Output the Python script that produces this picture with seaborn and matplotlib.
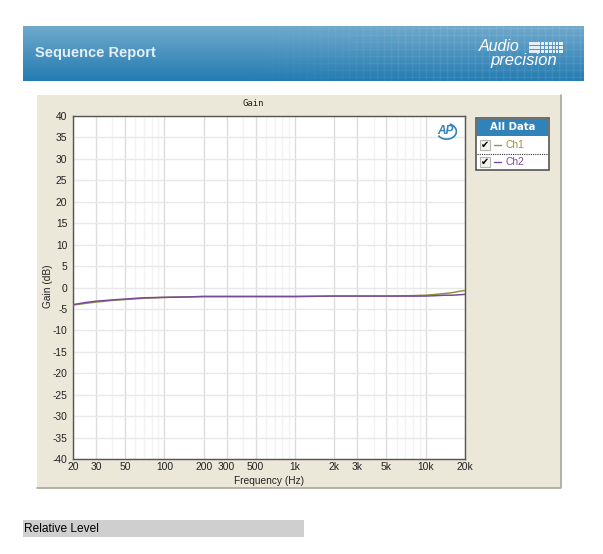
import numpy as np
import pandas as pd
import matplotlib
matplotlib.use("Agg")
import matplotlib.pyplot as plt
from matplotlib.patches import Rectangle, Arc
from matplotlib.ticker import FixedLocator, FixedFormatter, NullFormatter
import seaborn as sns

freq = [20, 25, 30, 40, 50, 70, 100, 150, 200, 300, 500, 1000, 2000, 3000, 5000, 8000, 10000, 12000, 14000, 16000, 18000, 20000]
ch1 = [-4.1, -3.7, -3.4, -3.0, -2.8, -2.5, -2.3, -2.2, -2.1, -2.1, -2.1, -2.1, -2.0, -2.0, -2.0, -1.9, -1.8, -1.6, -1.4, -1.2, -0.9, -0.7]
ch2 = [-4.0, -3.5, -3.2, -2.9, -2.7, -2.4, -2.3, -2.2, -2.1, -2.1, -2.1, -2.1, -2.0, -2.0, -2.0, -2.0, -2.0, -1.9, -1.8, -1.8, -1.7, -1.6]
xtick_vals = [20, 30, 50, 100, 200, 300, 500, 1000, 2000, 3000, 5000, 10000, 20000]
xtick_labels = ["20", "30", "50", "100", "200", "300", "500", "1k", "2k", "3k", "5k", "10k", "20k"]
xminor_vals = [40, 60, 70, 80, 90, 400, 600, 700, 800, 900, 4000, 6000, 7000, 8000, 9000]
ytick_vals = list(range(-40, 41, 5))
series_names = ["Ch1", "Ch2"]
series_colors = ["#94943a", "#7a4a9a"]

W, H = 603, 554
sns.set_theme(style="white", rc={"axes.unicode_minus": False})
plt.rcParams['font.family'] = ['Liberation Sans', 'DejaVu Sans']
fig = plt.figure(figsize=(W / 100, H / 100), dpi=100, facecolor="white")


def px_axes(x0, y0, x1, y1, **kw):
    return fig.add_axes([x0 / W, 1 - y1 / H, (x1 - x0) / W, (y1 - y0) / H], **kw)


bg = px_axes(0, 0, W, H)
bg.axis("off")

# header band
top = np.array([0x6f, 0xa9, 0xcc]) / 255
bot = np.array([0x24, 0x7c, 0xb2]) / 255
t = np.linspace(0, 1, 55)[:, None, None]
bg.imshow(top * (1 - t) + bot * t, extent=(23, 584, 81, 26), aspect="auto", zorder=1)
bg.set_xlim(0, W)
bg.set_ylim(H, 0)
for xg in range(230, 584, 7):
    a = 0.07 * min(1, (xg - 230) / 200)
    bg.plot([xg, xg], [26, 81], color="white", alpha=a, lw=1, zorder=2)
for xs in range(230, 584, 20):
    a = 0.07 * min(1, (xs - 230) / 200)
    for yg in range(28, 81, 7):
        bg.plot([xs, xs + 20], [yg, yg], color="white", alpha=a, lw=1, zorder=2, solid_capstyle="butt")
bg.text(35, 53, "Sequence Report", color="#e4f0f6", fontsize=10.5, fontweight="bold",
        va="center", ha="left", zorder=3)
bg.text(479, 46.5, "Audio", color="white", fontsize=11.5, style="italic", va="center", ha="left", zorder=3)
for xb, wb in [(529, 11), (541, 3), (545, 3), (549, 3), (553, 2), (556, 2), (559, 2), (561, 2)]:
    bg.add_patch(Rectangle((xb, 42), wb, 11, color="white", alpha=0.85, lw=0, zorder=3))
for yb in (45, 49):
    bg.plot([529, 563], [yb, yb], color="#4f94bf", lw=0.7, zorder=4)
bg.text(490, 60.5, "precision", color="white", fontsize=12, style="italic", va="center", ha="left", zorder=3)

# beige panel
bg.add_patch(Rectangle((37, 95), 524, 393, facecolor="#ebe7d9", edgecolor="none", zorder=1))
bg.plot([37, 561, 561], [488, 488, 95], color="#a8a8a0", lw=1.2, zorder=2)
bg.text(253.5, 104, "Gain", family="DejaVu Sans Mono", fontsize=6.5, color="#222222",
        va="center", ha="center", zorder=3)

# legend box
bg.add_patch(Rectangle((476, 118), 73, 52, facecolor="white", edgecolor="#555555", lw=1.2, zorder=3))
bg.add_patch(Rectangle((477, 119), 71, 17, facecolor="#2f83b8", edgecolor="none", zorder=4))
bg.text(512.5, 127, "All Data", color="white", fontsize=7.3, fontweight="bold",
        family="DejaVu Sans", va="center", ha="center", zorder=5)
bg.plot([477, 548], [153.5, 153.5], color="#333333", lw=0.8, ls=(0, (1, 1)), zorder=5)
for name, col, yc in zip(series_names, series_colors, [145, 162]):
    bg.add_patch(Rectangle((480, yc - 5), 10, 10, facecolor="#f2f2ee", edgecolor="#b5b5b0", lw=0.8, zorder=5))
    bg.text(485, yc, "\u2714", color="black", fontsize=7, family="DejaVu Sans", va="center", ha="center", zorder=6)
    bg.plot([494, 501], [yc, yc], color=col, lw=1, zorder=5)
    bg.text(506, yc, name, color=col, fontsize=7.4, va="center", ha="left", zorder=5)

# relative level bar
bg.add_patch(Rectangle((23, 520), 281, 17, facecolor="#cfcfcf", edgecolor="none", zorder=1))
bg.text(24, 528.5, "Relative Level", color="black", fontsize=8.6, va="center", ha="left", zorder=2)

# chart
ax = px_axes(73, 116, 465, 459)
ax.set_facecolor("white")
df = pd.DataFrame({"Frequency": freq * 2, "Gain": ch1 + ch2,
                   "Channel": [series_names[0]] * len(freq) + [series_names[1]] * len(freq)})
sns.lineplot(data=df, x="Frequency", y="Gain", hue="Channel", palette=series_colors,
             legend=False, ax=ax, lw=1.1, zorder=5, errorbar=None)
ax.set_xscale("log")
ax.set_xlim(20, 20000)
ax.set_ylim(-40, 40)
ax.xaxis.set_major_locator(FixedLocator(xtick_vals))
ax.xaxis.set_major_formatter(FixedFormatter(xtick_labels))
ax.xaxis.set_minor_locator(FixedLocator(xminor_vals))
ax.xaxis.set_minor_formatter(NullFormatter())
ax.yaxis.set_major_locator(FixedLocator(ytick_vals))
ax.grid(True, which="major", axis="x", color="#dcdcdc", lw=1)
ax.grid(True, which="major", axis="y", color="#e8e8e8", lw=1)
ax.grid(True, which="minor", axis="x", color="#f3f3f3", lw=1)
ax.set_axisbelow(True)
ax.tick_params(which="both", length=0, labelsize=7.4, colors="#222222", pad=4)
ax.tick_params(axis="x", pad=2.5)
for side, sp in ax.spines.items():
    sp.set_visible(True)
    sp.set_color("#55554f")
    sp.set_linewidth(1.0)
ax.set_xlabel("Frequency (Hz)", fontsize=7.3, color="#222222", labelpad=2.2)
ax.set_ylabel("Gain (dB)", fontsize=7.3, color="#222222")
ax.yaxis.set_label_coords(-0.05, 0.505)

# AP mark
ax.text(0.951, 0.955, "AP", transform=ax.transAxes, color="#2f83b8", fontsize=8.5, fontweight="bold",
        style="italic", va="center", ha="center", zorder=6)
ax.add_patch(Arc((0.953, 0.955), 0.05, 0.045, theta1=-150, theta2=70, transform=ax.transAxes,
                 edgecolor="#2f83b8", lw=1.2, zorder=6))

fig.savefig("out.png", dpi=100, facecolor="white")
